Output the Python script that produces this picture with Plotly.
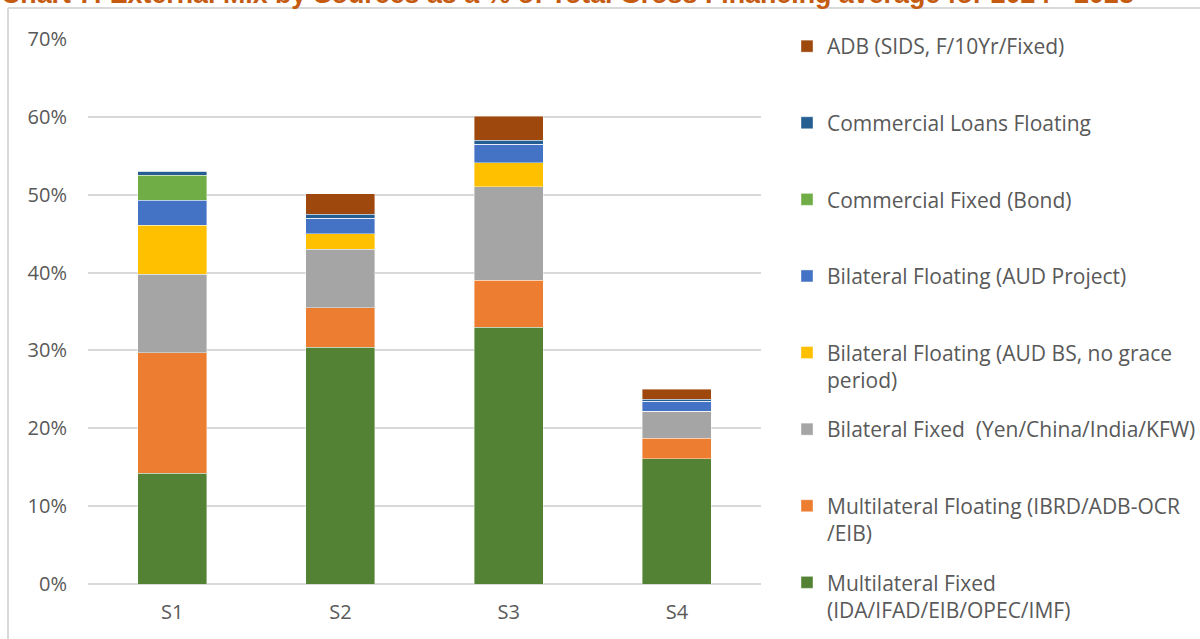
"""Stacked bar chart: external financing mix by source, S1-S4."""

import plotly.graph_objects as go

scenarios = ["S1", "S2", "S3", "S4"]

# shares of total gross financing, bottom of the stack first
multilateral_fixed = [0.142, 0.304, 0.330, 0.161]
multilateral_floating = [0.155, 0.051, 0.060, 0.026]
bilateral_fixed = [0.101, 0.075, 0.120, 0.035]
bilateral_floating_bs = [0.063, 0.020, 0.031, 0.0]
bilateral_floating_project = [0.032, 0.020, 0.024, 0.013]
commercial_fixed = [0.032, 0.0, 0.0, 0.0]
commercial_floating = [0.005, 0.005, 0.005, 0.002]
adb_sids = [0.0, 0.026, 0.031, 0.013]

series = [
    ("Multilateral Fixed<br>(IDA/IFAD/EIB/OPEC/IMF)", multilateral_fixed, "#548235"),
    ("Multilateral Floating (IBRD/ADB-OCR<br>/EIB)", multilateral_floating, "#ED7D31"),
    ("Bilateral Fixed \u00a0(Yen/China/India/KFW)<br>\u00a0", bilateral_fixed, "#A5A5A5"),
    ("Bilateral Floating (AUD BS, no grace<br>period)", bilateral_floating_bs, "#FFC000"),
    ("Bilateral Floating (AUD Project)<br>\u00a0", bilateral_floating_project, "#4472C4"),
    ("Commercial Fixed (Bond)<br>\u00a0", commercial_fixed, "#70AD47"),
    ("Commercial Loans Floating<br>\u00a0", commercial_floating, "#255E91"),
    ("ADB (SIDS, F/10Yr/Fixed)<br>\u00a0", adb_sids, "#9E480E"),
]

W, H = 1200, 639
PLOT_L, PLOT_R, PLOT_T, PLOT_B = 88, 761, 39, 584
FONT = "Open Sans, Arial, sans-serif"
GRID = "#D9D9D9"


def px_x(p):
    return (p - PLOT_L) / (PLOT_R - PLOT_L)


def px_y(p):
    return (PLOT_B - p) / (PLOT_B - PLOT_T)


fig = go.Figure()
for i, (name, values, color) in enumerate(series):
    fig.add_bar(
        x=scenarios,
        y=values,
        name=name,
        legendgroup=f"g{i}",
        legendrank=100 - i,  # top of the stack listed first
        marker={"color": color, "line": {"color": "rgba(255,255,255,0.5)", "width": 0.8}},
        hovertemplate="%{x}: %{y:.1%}<extra></extra>",
    )

fig.update_layout(
    width=W,
    height=H,
    barmode="stack",
    bargap=0.59,
    plot_bgcolor="white",
    paper_bgcolor="white",
    font={"family": FONT, "color": "#595959", "size": 19},
    margin={"l": PLOT_L, "r": W - PLOT_R, "t": PLOT_T, "b": H - PLOT_B, "autoexpand": False},
    legend={
        "x": px_x(787),
        "y": px_y(26),
        "xanchor": "left",
        "yanchor": "top",
        "traceorder": "grouped",
        "tracegroupgap": 19,
        "valign": "top",
        "itemwidth": 30,
        "maxheight": 640,
        "font": {"size": 21, "color": "#595959"},
        "bgcolor": "rgba(0,0,0,0)",
    },
    annotations=[
        {
            "text": "<b>Chart 7: External Mix by Sources as a % of Total Gross Financing average for 2024 - 2028</b>",
            "xref": "paper",
            "yref": "paper",
            "x": px_x(-1),
            "y": px_y(-6),
            "xanchor": "left",
            "yanchor": "middle",
            "showarrow": False,
            "font": {"family": "Liberation Sans, Arial, sans-serif", "size": 26.8, "color": "#C55A11"},
        }
    ],
    shapes=[
        {
            "type": "line", "xref": "paper", "yref": "paper", "layer": "below",
            "x0": px_x(8), "x1": px_x(W + 5), "y0": px_y(8), "y1": px_y(8),
            "line": {"color": GRID, "width": 2},
        },
        {
            "type": "line", "xref": "paper", "yref": "paper", "layer": "below",
            "x0": px_x(8), "x1": px_x(8), "y0": px_y(8), "y1": px_y(H + 5),
            "line": {"color": GRID, "width": 2},
        },
    ],
)
fig.update_yaxes(
    range=[0, 0.7],
    dtick=0.1,
    tickformat=".0%",
    showgrid=True,
    gridcolor=GRID,
    gridwidth=1.5,
    zeroline=True,
    zerolinecolor=GRID,
    zerolinewidth=1.5,
    showline=False,
    ticklabelstandoff=20,
    tickfont={"size": 20},
)
fig.update_xaxes(
    showline=False,
    showgrid=False,
    ticklabelstandoff=14,
    tickfont={"size": 20},
)

# the page's default body margin would shift the whole chart by 8px
fig.write_html(
    "out.html",
    config={"displayModeBar": False},
    post_script="document.body.style.margin = '0';",
)
